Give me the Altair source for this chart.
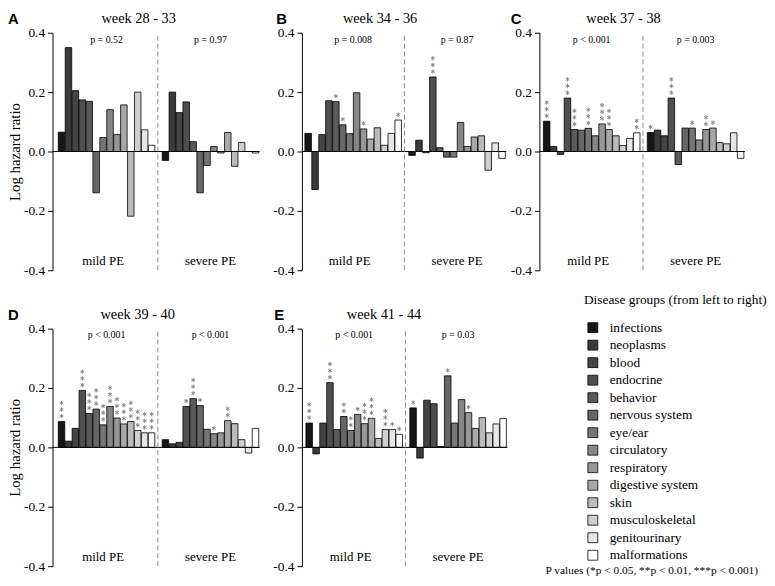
import altair as alt
import pandas as pd

SERIF = "Liberation Serif"
SANS = "Liberation Sans"

categories = ["infections", "neoplasms", "blood", "endocrine", "behavior",
              "nervous system", "eye/ear", "circulatory", "respiratory",
              "digestive system", "skin", "musculoskeletal", "genitourinary",
              "malformations"]
gray_colors = ["#161616", "#3a3a3a", "#444444", "#4f4f4f", "#5a5a5a", "#666666",
               "#767676", "#868686", "#979797", "#a8a8a8", "#bababa", "#cfcfcf",
               "#e6e6e6", "#ffffff"]

panel_letters = ["A", "B", "C", "D", "E"]
panel_titles = ["week 28 - 33", "week 34 - 36", "week 37 - 38", "week 39 - 40", "week 41 - 44"]
p_mild = ["p = 0.52", "p = 0.008", "p < 0.001", "p < 0.001", "p < 0.001"]
p_severe = ["p = 0.97", "p = 0.87", "p = 0.003", "p < 0.001", "p = 0.03"]

mild_A = [0.065, 0.35, 0.205, 0.174, 0.169, -0.139, 0.047, 0.141, 0.057, 0.157, -0.218, 0.2, 0.073, 0.021]
severe_A = [-0.03, 0.2, 0.131, 0.167, 0.033, -0.139, -0.047, 0.017, -0.005, 0.064, -0.05, 0.03, 0.0, -0.005]
mild_B = [0.061, -0.128, 0.057, 0.171, 0.168, 0.09, 0.06, 0.198, 0.076, 0.042, 0.08, 0.021, 0.061, 0.106]
severe_B = [-0.013, 0.038, -0.004, 0.251, 0.013, -0.019, -0.019, 0.098, 0.017, 0.049, 0.053, -0.063, 0.029, -0.023]
mild_C = [0.102, 0.017, -0.01, 0.18, 0.074, 0.072, 0.078, 0.053, 0.093, 0.074, 0.053, 0.02, 0.044, 0.063]
severe_C = [0.064, 0.072, 0.053, 0.18, -0.044, 0.079, 0.079, 0.039, 0.074, 0.079, 0.03, 0.026, 0.063, -0.023]
mild_D = [0.087, 0.021, 0.064, 0.192, 0.114, 0.129, 0.076, 0.138, 0.099, 0.079, 0.087, 0.057, 0.049, 0.049]
severe_D = [0.026, 0.012, 0.017, 0.138, 0.164, 0.141, 0.061, 0.046, 0.049, 0.09, 0.08, 0.026, -0.019, 0.064]
mild_E = [0.082, -0.022, 0.082, 0.218, 0.06, 0.104, 0.057, 0.111, 0.08, 0.098, 0.03, 0.06, 0.06, 0.044]
severe_E = [0.133, -0.036, 0.159, 0.147, 0.003, 0.241, 0.082, 0.161, 0.117, 0.064, 0.1, 0.049, 0.079, 0.097]

stars_mild_A = [0] * 14
stars_severe_A = [0] * 14
stars_mild_B = [0, 0, 0, 0, 1, 1, 0, 0, 1, 0, 0, 0, 0, 1]
stars_severe_B = [0, 0, 0, 3, 0, 0, 0, 0, 0, 0, 0, 0, 0, 0]
stars_mild_C = [3, 0, 0, 3, 3, 0, 3, 0, 3, 3, 0, 0, 0, 2]
stars_severe_C = [1, 0, 0, 3, 0, 0, 1, 0, 2, 1, 0, 0, 0, 0]
stars_mild_D = [3, 0, 0, 3, 3, 3, 3, 3, 3, 3, 3, 3, 3, 3]
stars_severe_D = [0, 0, 0, 1, 3, 1, 0, 1, 0, 2, 0, 0, 0, 0]
stars_mild_E = [3, 0, 0, 3, 0, 2, 2, 1, 3, 3, 0, 3, 1, 1]
stars_severe_E = [1, 0, 0, 0, 0, 1, 0, 0, 1, 0, 0, 0, 0, 0]

group_labels = ["mild PE", "severe PE"]
legend_title = "Disease groups (from left to right)"
footnote = "P values (*p < 0.05, **p < 0.01, ***p < 0.001)"

mild_all = [mild_A, mild_B, mild_C, mild_D, mild_E]
severe_all = [severe_A, severe_B, severe_C, severe_D, severe_E]
stars_mild_all = [stars_mild_A, stars_mild_B, stars_mild_C, stars_mild_D, stars_mild_E]
stars_severe_all = [stars_severe_A, stars_severe_B, stars_severe_C, stars_severe_D, stars_severe_E]

# layout tuning per panel
x_left = [-1.3, -0.9, -1.05, -1.3, -1.05]
x_right = 28.6
px_per_unit = 7.0
letter_dx = [-45, -26, -29, -45, -28]
title_dx = [87, 79, 85, 86, 83]
TITLE_Y = -14
ASTERISK = "M0,-1L0,1M-0.87,-0.5L0.87,0.5M-0.87,0.5L0.87,-0.5"

color_scale = alt.Scale(domain=categories, range=gray_colors)
one = pd.DataFrame({"z": [0]})
LABEL_EXPR = "datum.value < 0 ? '-' + format(-datum.value, '.1f') : format(datum.value, '.1f')"


def make_panel(i):
    rows = []
    for k in range(14):
        rows.append(dict(pos=k, value=mild_all[i][k], cat=categories[k], stars=stars_mild_all[i][k]))
        rows.append(dict(pos=k + 15, value=severe_all[i][k], cat=categories[k], stars=stars_severe_all[i][k]))
    df = pd.DataFrame(rows)
    df["x0"] = df["pos"] - 0.47
    df["x1"] = df["pos"] + 0.47

    width = (x_right - x_left[i]) * px_per_unit
    xs = alt.Scale(domain=[x_left[i], x_right], nice=False, zero=False)
    ys = alt.Scale(domain=[-0.4, 0.4], nice=False)
    show_title = i in (0, 3)
    axis_kw = dict(
        values=[-0.4, -0.2, 0.0, 0.2, 0.4], labelExpr=LABEL_EXPR,
        grid=False, tickSize=5, tickColor="black", domainColor="black",
        labelFont=SERIF, labelFontSize=13.5, labelColor="black", labelPadding=3,
    )
    if show_title:
        yaxis = alt.Axis(title="Log hazard ratio", titleFont=SERIF, titleFontSize=15,
                         titleFontWeight="normal", titleColor="black",
                         titleX=-38, titleY=120, titleAngle=-90,
                         titleBaseline="middle", titleAlign="center", **axis_kw)
    else:
        yaxis = alt.Axis(title=None, **axis_kw)

    base = alt.Chart(df)
    bars = base.mark_bar(stroke="black", strokeWidth=0.8).encode(
        x=alt.X("x0:Q", scale=xs, axis=None),
        x2="x1:Q",
        y=alt.Y("value:Q", scale=ys, axis=yaxis),
        y2=alt.datum(0),
        color=alt.Color("cat:N", scale=color_scale, legend=None),
    )
    zero = alt.Chart(one).mark_rule(color="black", strokeWidth=1).encode(y=alt.datum(0))
    sep = alt.Chart(one).mark_rule(color="#8a8a8a", strokeWidth=1, strokeDash=[5, 3]).encode(
        x=alt.datum(13.9), y=alt.datum(0.39), y2=alt.datum(-0.4))
    star_layers = []
    for j in range(3):
        star_layers.append(
            base.transform_filter(f"datum.stars > {j}").mark_point(
                shape=ASTERISK, size=20, filled=False, stroke="#808080",
                strokeWidth=0.9, opacity=1, yOffset=-(5.5 + 6.7 * j),
            ).encode(x="pos:Q", y="value:Q")
        )
    p1 = alt.Chart(one).mark_text(font=SERIF, fontSize=10, color="black").encode(
        x=alt.datum(6.5), y=alt.datum(0.377), text=alt.datum(p_mild[i]))
    p2 = alt.Chart(one).mark_text(font=SERIF, fontSize=10, color="black").encode(
        x=alt.datum(21.5), y=alt.datum(0.377), text=alt.datum(p_severe[i]))
    g1 = alt.Chart(one).mark_text(font=SERIF, fontSize=13, color="black").encode(
        x=alt.datum(6.0), y=alt.datum(-0.37), text=alt.datum(group_labels[0]))
    g2 = alt.Chart(one).mark_text(font=SERIF, fontSize=13, color="black").encode(
        x=alt.datum(21.5), y=alt.datum(-0.37), text=alt.datum(group_labels[1]))
    ttl = alt.Chart(one).mark_text(font=SERIF, fontSize=14.5, color="black", baseline="middle").encode(
        x=alt.value(title_dx[i]), y=alt.value(TITLE_Y), text=alt.datum(panel_titles[i]))
    let = alt.Chart(one).mark_text(font=SANS, fontSize=15, fontWeight="bold", color="black",
                                   align="left", baseline="middle").encode(
        x=alt.value(letter_dx[i]), y=alt.value(TITLE_Y), text=alt.datum(panel_letters[i]))
    return alt.layer(bars, zero, sep, *star_layers, p1, p2, g1, g2, ttl, let).properties(
        width=width, height=240)


A, B, C, D, E = [make_panel(i) for i in range(5)]

# legend panel (bottom right), drawn from the category list through the shared colour scale
leg_df = pd.DataFrame({"cat": categories})
LW = 245
leg_y = alt.Y("cat:N", scale=alt.Scale(domain=categories, range=[-1, 229], padding=0),
              axis=None)
leg_sym = alt.Chart(leg_df).mark_square(size=100, stroke="black", strokeWidth=0.8,
                                        opacity=1, filled=True).encode(
    x=alt.value(78), y=leg_y,
    color=alt.Color("cat:N", scale=color_scale, legend=None))
leg_lab = alt.Chart(leg_df).mark_text(font=SERIF, fontSize=13.5, color="black",
                                      align="left", baseline="middle").encode(
    x=alt.value(95), y=leg_y, text="cat:N")
leg_ttl = alt.Chart(one).mark_text(font=SERIF, fontSize=13.5, color="black",
                                   align="left", baseline="middle").encode(
    x=alt.value(69), y=alt.value(-29), text=alt.datum(legend_title))
foot = alt.Chart(one).mark_text(font=SERIF, fontSize=11.5, color="black", align="right",
                                baseline="middle").encode(
    x=alt.value(LW), y=alt.value(245), text=alt.datum(footnote))
L = alt.layer(leg_sym, leg_lab, leg_ttl, foot).properties(width=LW, height=240)

top = alt.hconcat(alt.hconcat(A, B, spacing=12), C, spacing=3)
bottom = alt.hconcat(alt.hconcat(D, E, spacing=12), L, spacing=7)
chart = alt.vconcat(top, bottom, spacing=16).properties(padding=0).configure(
    font=SERIF).configure_view(strokeWidth=0)

chart.save("out.html", embed_options={"renderer": "svg", "actions": False})
